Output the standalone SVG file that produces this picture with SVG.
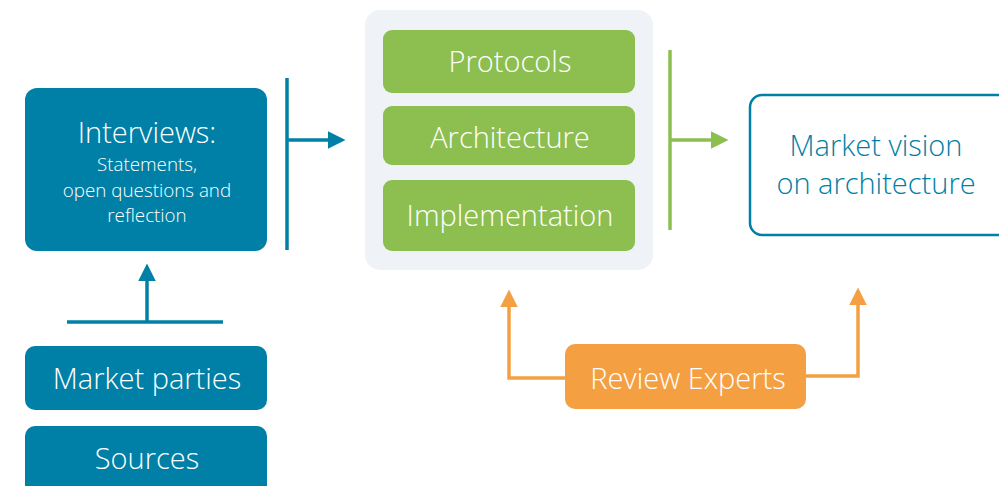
<svg xmlns="http://www.w3.org/2000/svg" width="999" height="486" viewBox="0 0 999 486">
<style>
text{font-family:"Open Sans","Noto Sans","Liberation Sans",sans-serif;text-anchor:middle;font-weight:300;}
.w{fill:#ffffff;}
.big{font-size:29px;}
.sm{font-size:18.8px;}
.blue{fill:#0080A6;}
.green{fill:#8DBE50;}
.orange{fill:#F4A042;}
.lb{stroke:#0080A6;stroke-width:3.5;fill:none;}
.lg{stroke:#8DBE50;stroke-width:3.5;fill:none;}
.lo{stroke:#F4A042;stroke-width:3.5;fill:none;}
</style>
<defs>
<marker id="ab" markerWidth="5" markerHeight="5" refX="4" refY="2.5" orient="auto" markerUnits="strokeWidth"><path d="M0,0 L5,2.5 L0,5 Z" fill="#0080A6"/></marker>
<marker id="ag" markerWidth="5" markerHeight="5" refX="4" refY="2.5" orient="auto" markerUnits="strokeWidth"><path d="M0,0 L5,2.5 L0,5 Z" fill="#8DBE50"/></marker>
<marker id="ao" markerWidth="5" markerHeight="5" refX="4" refY="2.5" orient="auto" markerUnits="strokeWidth"><path d="M0,0 L5,2.5 L0,5 Z" fill="#F4A042"/></marker>
</defs>
<rect width="999" height="486" fill="#ffffff"/>
<g id="connectors">
<line class="lb" x1="287" y1="78" x2="287" y2="250"/>
<line class="lb" x1="287" y1="140" x2="342" y2="140" marker-end="url(#ab)"/>
<line class="lb" x1="67" y1="322" x2="223" y2="322"/>
<line class="lb" x1="147" y1="322" x2="147" y2="267" marker-end="url(#ab)"/>
<line class="lg" x1="670" y1="50" x2="670" y2="230"/>
<line class="lg" x1="670" y1="140" x2="725" y2="140" marker-end="url(#ag)"/>
<polyline class="lo" points="565,378 509,378 509,293" marker-end="url(#ao)"/>
<polyline class="lo" points="806,376 858,376 858,291" marker-end="url(#ao)"/>
</g>
<g id="interviews">
<rect class="blue" x="25" y="88" width="242" height="163" rx="12"/>
<text class="w" x="147" y="143" font-size="29">Interviews:</text>
<text class="w sm" x="147" y="171">Statements,</text>
<text class="w sm" x="147" y="197">open questions and</text>
<text class="w sm" x="147" y="222">reflection</text>
</g>
<g id="market-parties">
<rect class="blue" x="25" y="346" width="242" height="64" rx="10"/>
<text class="w big" x="147" y="389">Market parties</text>
</g>
<g id="sources">
<rect class="blue" x="25" y="426" width="242" height="70" rx="10"/>
<text class="w big" x="147" y="469">Sources</text>
</g>
<g id="container">
<rect x="365" y="10" width="288" height="260" rx="15" fill="#EFF3F7"/>
</g>
<g id="protocols">
<rect class="green" x="383" y="30" width="252" height="63" rx="9"/>
<text class="w big" x="510" y="72">Protocols</text>
</g>
<g id="architecture">
<rect class="green" x="383" y="106" width="252" height="59" rx="9"/>
<text class="w big" x="510" y="148">Architecture</text>
</g>
<g id="implementation">
<rect class="green" x="383" y="180" width="252" height="71" rx="9"/>
<text class="w big" x="510" y="226">Implementation</text>
</g>
<g id="market-vision">
<rect x="750" y="95" width="260" height="140" rx="12" fill="#ffffff" stroke="#0080A6" stroke-width="2.5"/>
<text class="big" x="876" y="156" fill="#0080A6">Market vision</text>
<text class="big" x="876" y="194" fill="#0080A6">on architecture</text>
</g>
<g id="review-experts">
<rect class="orange" x="565" y="344" width="241" height="65" rx="10"/>
<text class="w big" x="688" y="389">Review Experts</text>
</g>
</svg>
